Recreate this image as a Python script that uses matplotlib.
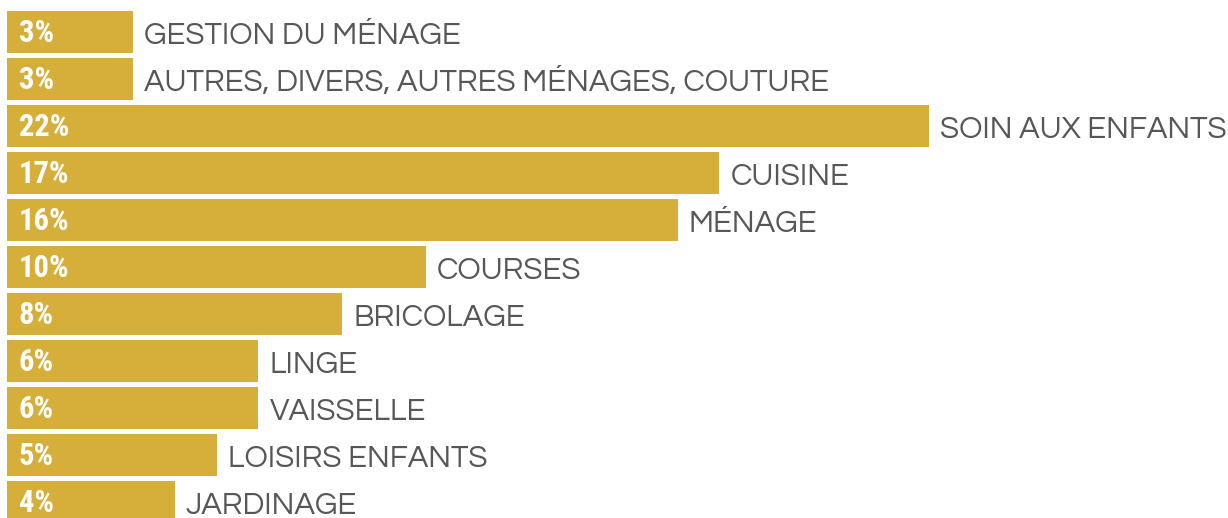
import matplotlib
matplotlib.use("Agg")
import matplotlib.pyplot as plt

# --- data ---
categories = [
    "GESTION DU MÉNAGE",
    "AUTRES, DIVERS, AUTRES MÉNAGES, COUTURE",
    "SOIN AUX ENFANTS",
    "CUISINE",
    "MÉNAGE",
    "COURSES",
    "BRICOLAGE",
    "LINGE",
    "VAISSELLE",
    "LOISIRS ENFANTS",
    "JARDINAGE",
]
shares = [3, 3, 22, 17, 16, 10, 8, 6, 6, 5, 4]

bar_color = "#D6AF3A"
text_color = "#575757"
pct_font = ["Roboto Condensed", "Liberation Sans Narrow", "DejaVu Sans"]
cat_font = ["Questrial", "Quicksand", "Lato", "DejaVu Sans"]

fig = plt.figure(figsize=(12.28, 5.18), dpi=100)
ax = fig.add_axes([0, 0, 1, 1])

rows = list(range(len(categories)))
ax.barh(rows, shares, height=0.905, color=bar_color, left=0)

for i, (cat, v) in enumerate(zip(categories, shares)):
    # value inside the bar, category just past its end
    ax.annotate(f"{v}%", xy=(0, i), xytext=(12, -1), textcoords="offset pixels",
                ha="left", va="center", color="white", fontsize=22,
                fontweight="bold", family=pct_font)
    ax.annotate(cat, xy=(v, i), xytext=(11, -4), textcoords="offset pixels",
                ha="left", va="center", color=text_color, fontsize=22.3,
                family=cat_font)

# pixel-calibrated limits: 0% at x=7px, 22% at x=929px; rows 47px apart
px_per_pct = (929 - 7) / 22
ax.set_xlim(-7 / px_per_pct, (1228 - 7) / px_per_pct)
ax.set_ylim((518 - 32) / 47, -32 / 47)
ax.axis("off")

fig.savefig("out.png", dpi=100)
plt.close(fig)
